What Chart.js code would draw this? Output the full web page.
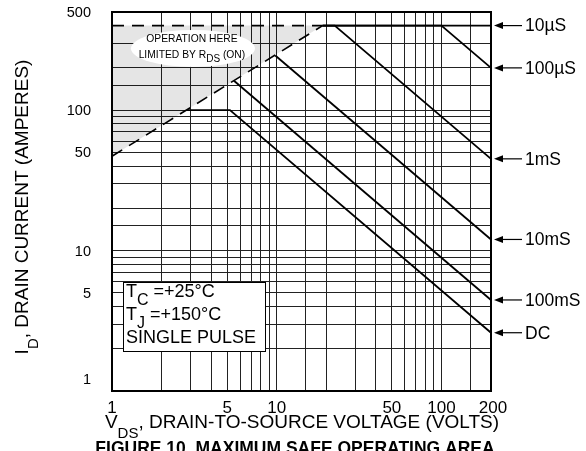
<!DOCTYPE html>
<html><head><meta charset="utf-8">
<script src="https://cdn.jsdelivr.net/npm/chart.js@4"></script>
<style>html,body{margin:0;padding:0;background:#fff}canvas{display:block}</style>
</head><body>
<canvas id="c" width="586" height="451"></canvas>
<script>
// ---- data ----
const xTickLabels = [1, 5, 10, 50, 100, 200];
const yTickLabels = [1, 5, 10, 50, 100, 500];
const curveNames = ['10µS', '100µS', '1mS', '10mS', '100mS', 'DC'];

const rdsV = [1, 19];            const rdsI = [47, 400];
const limV = [1, 19];            const limI = [400, 400];
const us10V = [19, 200];         const us10I = [400, 400];
const us100V = [19, 100, 200];   const us100I = [400, 400, 200];
const ms1V = [19, 22.5, 200];    const ms1I = [400, 400, 45];
const ms10V = [9.8, 200];        const ms10I = [245, 12];
const ms100V = [5.5, 200];       const ms100I = [162, 4.45];
const dcV = [2.85, 5.2, 200];    const dcI = [100, 100, 2.6];

const xTitle = [['V', 0], ['DS', 1], [', DRAIN-TO-SOURCE VOLTAGE (VOLTS)', 0]];
const yTitle = [['I', 0], ['D', 1], [', DRAIN CURRENT (AMPERES)', 0]];
const figTitle = 'FIGURE 10. MAXIMUM SAFE OPERATING AREA';
const noteLines = [
  [['T', 0], ['C', 1], [' =+25°C', 0]],
  [['T', 0], ['J', 1], [' =+150°C', 0]],
  [['SINGLE PULSE', 0]]
];
const rdsNote = [
  [['OPERATION HERE', 0]],
  [['LIMITED BY R', 0], ['DS', 1], [' (ON)', 0]]
];

// ---- helpers ----
const FAM = '"Liberation Sans", Arial, Helvetica, sans-serif';
const F = (px, b) => (b ? 'bold ' : '') + px + 'px ' + FAM;
const pts = (xs, ys) => xs.map((v, i) => ({x: v, y: ys[i]}));

function segsWidth(ctx, segs, size, subSize) {
  let w = 0;
  for (const [t, s] of segs) { ctx.font = F(s ? subSize : size); w += ctx.measureText(t).width; }
  return w;
}
function drawSegs(ctx, segs, x, y, size, subSize, subDy, align) {
  let w = segsWidth(ctx, segs, size, subSize);
  let cx = align === 'center' ? x - w / 2 : (align === 'right' ? x - w : x);
  ctx.textAlign = 'left';
  ctx.textBaseline = 'alphabetic';
  for (const [t, s] of segs) {
    ctx.font = F(s ? subSize : size);
    ctx.fillText(t, cx, y + (s ? subDy : 0));
    cx += ctx.measureText(t).width;
  }
}

const lineDs = (xs, ys, extra) => Object.assign({
  data: pts(xs, ys), borderColor: '#000', borderWidth: 1.8,
  pointRadius: 0, fill: false, tension: 0
}, extra || {});

const decor = {
  id: 'decor',
  afterDatasetsDraw(chart) {
    const {ctx, chartArea: a, scales: {x, y}} = chart;
    ctx.save();
    // ellipse note
    const ex = x.getPixelForValue(3.1), ey = y.getPixelForValue(275);
    ctx.beginPath();
    ctx.ellipse(ex, ey, 62, 18.5, 0, 0, Math.PI * 2);
    ctx.fillStyle = '#fff';
    ctx.fill();
    ctx.fillStyle = '#000';
    drawSegs(ctx, rdsNote[0], ex - 1, ey - 6, 10.3, 9.5, 0, 'center');
    drawSegs(ctx, rdsNote[1], ex - 1, ey + 10, 10.3, 10, 3.5, 'center');
    // conditions box
    ctx.fillStyle = '#fff';
    ctx.fillRect(123.5, 282, 142, 69);
    ctx.strokeStyle = '#000';
    ctx.lineWidth = 1;
    ctx.strokeRect(123.5, 282.5, 142, 69);
    ctx.fillStyle = '#000';
    const bl = [297, 320, 343];
    noteLines.forEach((l, i) => drawSegs(ctx, l, 126, bl[i], 18, 16, 8, 'left'));
    // plot frame
    ctx.lineWidth = 2;
    ctx.strokeRect(a.left, a.top, a.right - a.left, a.bottom - a.top);
    ctx.restore();
  },
  afterDraw(chart) {
    const {ctx, chartArea: a, scales: {x, y}} = chart;
    ctx.save();
    ctx.fillStyle = '#000';
    // y tick labels
    ctx.font = F(14.5);
    ctx.textAlign = 'right';
    ctx.textBaseline = 'middle';
    yTickLabels.forEach(v => {
      let py = y.getPixelForValue(v) + 1;
      if (v === 1) py -= 12;
      ctx.fillText(String(v), 91, py);
    });
    // x tick labels
    ctx.font = F(17);
    ctx.textAlign = 'center';
    ctx.textBaseline = 'alphabetic';
    xTickLabels.forEach(v => {
      let px = x.getPixelForValue(v);
      if (v === 200) px += 2;
      ctx.fillText(String(v), px, 413);
    });
    // curve labels on the right with arrows
    const ends = [us10I, us100I, ms1I, ms10I, ms100I, dcI].map(a => a[a.length - 1]);
    ctx.strokeStyle = '#000';
    ctx.lineWidth = 1.2;
    ends.forEach((v, i) => {
      const py = y.getPixelForValue(v);
      const x0 = a.right + 3, x1 = a.right + 31;
      ctx.beginPath(); ctx.moveTo(x0 + 6, py); ctx.lineTo(x1, py); ctx.stroke();
      ctx.beginPath(); ctx.moveTo(x0, py); ctx.lineTo(x0 + 9, py - 3.5); ctx.lineTo(x0 + 9, py + 3.5); ctx.closePath(); ctx.fill();
      ctx.font = F(17.5);
      ctx.textAlign = 'left';
      ctx.textBaseline = 'middle';
      ctx.fillText(curveNames[i], x1 + 3, py + 1);
    });
    // axis titles
    drawSegs(ctx, xTitle, 302, 428, 19, 15, 10, 'center');
    ctx.save();
    ctx.translate(28, 207);
    ctx.rotate(-Math.PI / 2);
    drawSegs(ctx, yTitle, 0, 0, 19, 15, 10, 'center');
    ctx.restore();
    // figure title
    ctx.font = F(17.5, true);
    ctx.textAlign = 'center';
    ctx.textBaseline = 'alphabetic';
    ctx.fillText(figTitle, 295, 454);
    ctx.restore();
  }
};

new Chart(document.getElementById('c'), {
  type: 'line',
  data: {
    datasets: [
      lineDs(rdsV, rdsI, {borderDash: [12, 8], borderWidth: 1.6, fill: {value: 400}, backgroundColor: 'rgba(0,0,0,0.1)'}),
      lineDs(limV, limI, {borderDash: [12, 8], borderWidth: 1.6}),
      lineDs(us10V, us10I),
      lineDs(us100V, us100I),
      lineDs(ms1V, ms1I),
      lineDs(ms10V, ms10I),
      lineDs(ms100V, ms100I),
      lineDs(dcV, dcI)
    ]
  },
  options: {
    responsive: false,
    animation: false,
    devicePixelRatio: 1,
    layout: {padding: {left: 112, right: 95, top: 12, bottom: 60}},
    plugins: {legend: {display: false}, tooltip: {enabled: false}},
    scales: {
      x: {
        type: 'logarithmic', min: 1, max: 200,
        ticks: {display: false},
        border: {display: false},
        grid: {drawTicks: false, color: '#222', lineWidth: 1},
        afterFit: s => { s.height = 0; }
      },
      y: {
        type: 'logarithmic', min: 1, max: 500,
        ticks: {display: false},
        border: {display: false},
        grid: {drawTicks: false, lineWidth: 1,
          color: c => (c.tick && c.tick.value === 400) ? 'rgba(0,0,0,0)' : '#222'},
        afterFit: s => { s.width = 0; }
      }
    }
  },
  plugins: [decor]
});
</script>
</body></html>
